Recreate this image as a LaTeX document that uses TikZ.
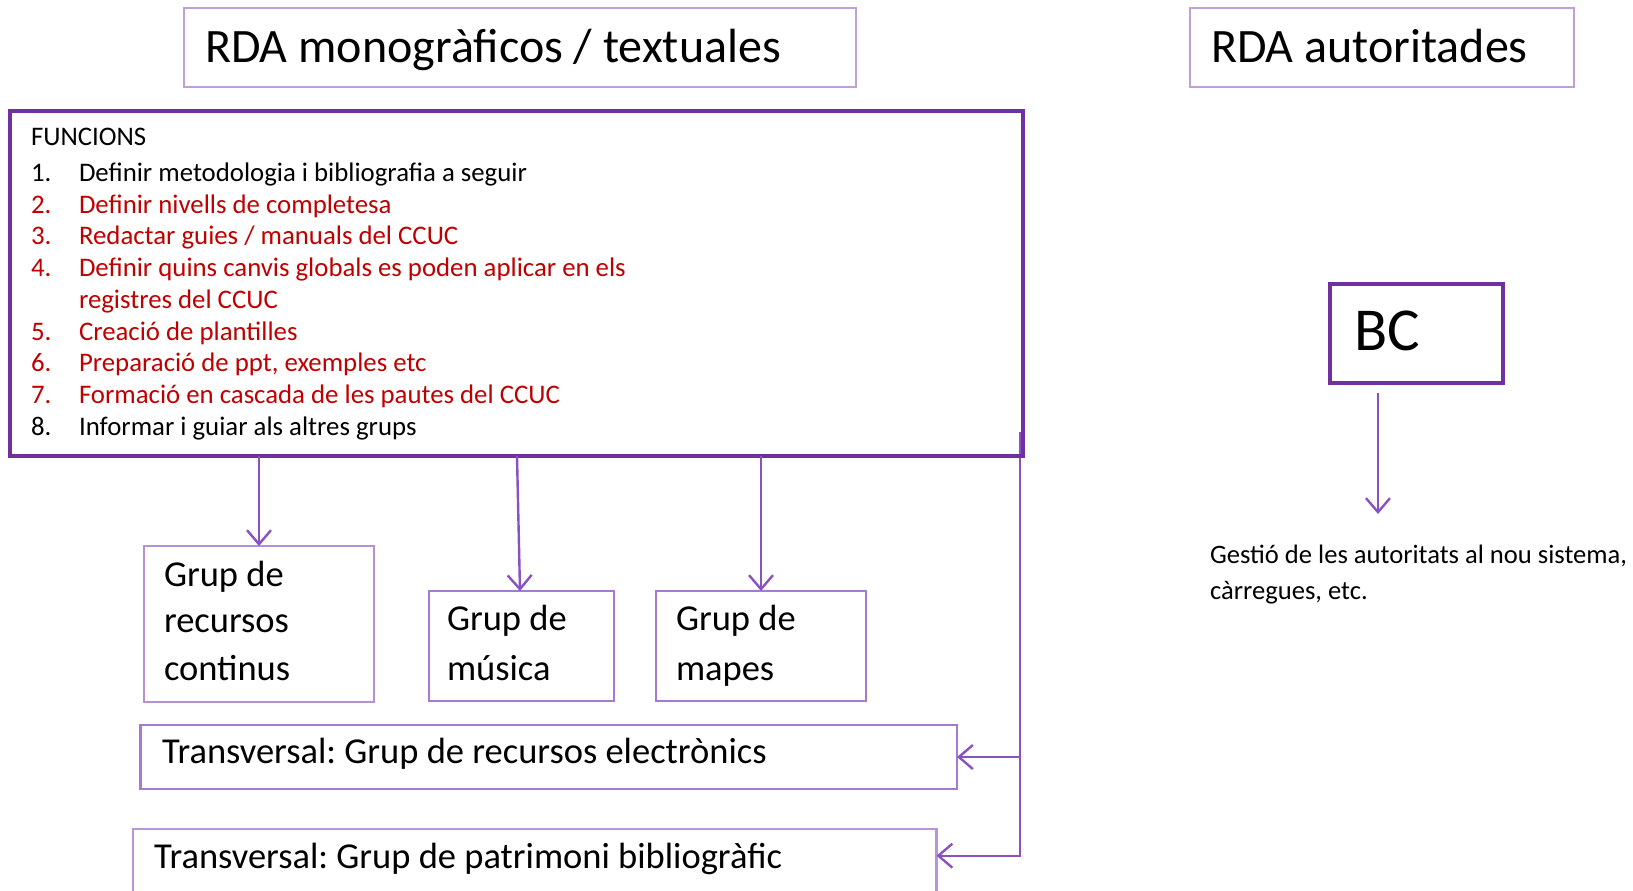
\documentclass[tikz,border=0pt]{standalone}
\usepackage{fontspec}
\setmainfont{Carlito}
\frenchspacing
\usetikzlibrary{arrows.meta}
\definecolor{pdark}{HTML}{7030A0}
\definecolor{plight}{HTML}{BFA0DC}
\definecolor{pmid}{HTML}{A47BD0}
\definecolor{parr}{HTML}{8A52C0}
\definecolor{redt}{HTML}{C00000}
\newcommand{\ftitle}{\fontsize{48}{58}\selectfont}
\newcommand{\flist}{\fontsize{26.8}{32}\selectfont}
\newcommand{\fgrp}{\fontsize{36.5}{44}\selectfont}
\newcommand{\fbc}{\fontsize{61}{70}\selectfont}
\newcommand{\fges}{\fontsize{26.6}{32}\selectfont}
\begin{document}
\begin{tikzpicture}[x=1pt,y=-1pt,
  boxshape/.style={rectangle, inner sep=0pt, outer sep=0pt},
  titlebox/.style={boxshape, draw=plight, line width=2.5pt},
  funbox/.style={boxshape, draw=pdark, line width=4.5pt},
  grpbox/.style={boxshape, draw=pmid, line width=2.5pt},
  bcbox/.style={boxshape, draw=pdark, line width=4pt},
  txt/.style={anchor=base west, inner sep=0pt, outer sep=0pt},
  redtxt/.style={txt, text=redt},
  conn/.style={draw=parr, line width=2.4pt},
  arr/.style={conn, -{Straight Barb[length=14pt,width=24pt]}}]
\useasboundingbox (0,0) rectangle (1633,891);
\clip (0,0) rectangle (1633,891);

% connectors drawn first
\coordinate (r0) at (1020,432);
\node[grpbox, minimum width=816.5pt, minimum height=64pt] (tr1) at (548.75,757) {};
\node[grpbox, draw=plight!70!pmid, minimum width=803.5pt, minimum height=71pt] (tr2) at (534.75,864.5) {};
\path (tr2.north east) ++(0,26.7) coordinate (tr2in);
\draw[arr] (r0) |- (tr1.east);
\draw[arr] (r0) |- (tr2in);

% title boxes
\node[titlebox, minimum width=672pt, minimum height=79pt] (t1) at (520,47.5) {};
\node[txt, font=\ftitle] (t1t) at (205,63) {RDA monogràficos / textuales};
\node[titlebox, minimum width=384pt, minimum height=79pt] (t2) at (1382,47.5) {};
\node[txt, font=\ftitle] (t2t) at (1211,63) {RDA autoritades};

% functions box
\node[funbox, minimum width=1013pt, minimum height=345pt] (fun) at (516.5,283.5) {};
\node[txt, font=\flist] (fh) at (31,145) {FUNCIONS};
\node[txt, font=\flist] (n1) at (31,181.5) {1.};
\node[txt, font=\flist] (l1) at (79,181.5) {Definir metodologia i bibliografia a seguir};
\node[redtxt, font=\flist] (n2) at (31,213.2) {2.};
\node[redtxt, font=\flist] (l2) at (79,213.2) {Definir nivells de completesa};
\node[redtxt, font=\flist] (n3) at (31,244.9) {3.};
\node[redtxt, font=\flist] (l3) at (79,244.9) {Redactar guies / manuals del CCUC};
\node[redtxt, font=\flist] (n4) at (31,276.6) {4.};
\node[redtxt, font=\flist] (l4) at (79,276.6) {Definir quins canvis globals es poden aplicar en els};
\node[redtxt, font=\flist] (l4b) at (79,308.3) {registres del CCUC};
\node[redtxt, font=\flist] (n5) at (31,340) {5.};
\node[redtxt, font=\flist] (l5) at (79,340) {Creació de plantilles};
\node[redtxt, font=\flist] (n6) at (31,371.7) {6.};
\node[redtxt, font=\flist] (l6) at (79,371.7) {Preparació de ppt, exemples etc};
\node[redtxt, font=\flist] (n7) at (31,403.4) {7.};
\node[redtxt, font=\flist] (l7) at (79,403.4) {Formació en cascada de les pautes del CCUC};
\node[txt, font=\flist] (n8) at (31,435.1) {8.};
\node[txt, font=\flist] (l8) at (79,435.1) {Informar i guiar als altres grups};

% group boxes
\node[grpbox, draw=plight!60!pmid, minimum width=230pt, minimum height=156pt] (rc) at (259,624) {};
\node[txt, font=\fgrp] (rc1) at (164,586) {Grup de};
\node[txt, font=\fgrp] (rc2) at (164,632) {recursos};
\node[txt, font=\fgrp] (rc3) at (164,680) {continus};
\node[grpbox, minimum width=185pt, minimum height=110pt] (mu) at (521.5,646) {};
\node[txt, font=\fgrp] (mu1) at (447,630) {Grup de};
\node[txt, font=\fgrp] (mu2) at (447,680) {música};
\node[grpbox, minimum width=210pt, minimum height=110pt] (ma) at (761,646) {};
\node[txt, font=\fgrp] (ma1) at (676,630) {Grup de};
\node[txt, font=\fgrp] (ma2) at (676,680) {mapes};

\node[txt, font=\fgrp] (tr1t) at (162,763) {Transversal: Grup de recursos electrònics};
\node[txt, font=\fgrp] (tr2t) at (154,868) {Transversal: Grup de patrimoni bibliogràfic};

% arrows from functions box
\draw[arr] (rc.north |- fun.south) -- (rc.north);
\draw[arr] ([xshift=-4.5pt]mu.north |- fun.south) -- ([xshift=-1.5pt]mu.north);
\draw[arr] (ma.north |- fun.south) -- (ma.north);

% right side
\node[bcbox, minimum width=173pt, minimum height=99pt] (bc) at (1416.5,333.5) {};
\node[txt, font=\fbc] (bct) at (1354,350) {BC};
\coordinate (gtip) at (1378,514);
\draw[arr] ([xshift=-38.5pt,yshift=-9.5pt]bc.south) -- (gtip);
\node[txt, font=\fges] (g1) at (1210,563) {Gestió de les autoritats al nou sistema,};
\node[txt, font=\fges] (g2) at (1210,599) {càrregues, etc.};
\end{tikzpicture}
\end{document}
